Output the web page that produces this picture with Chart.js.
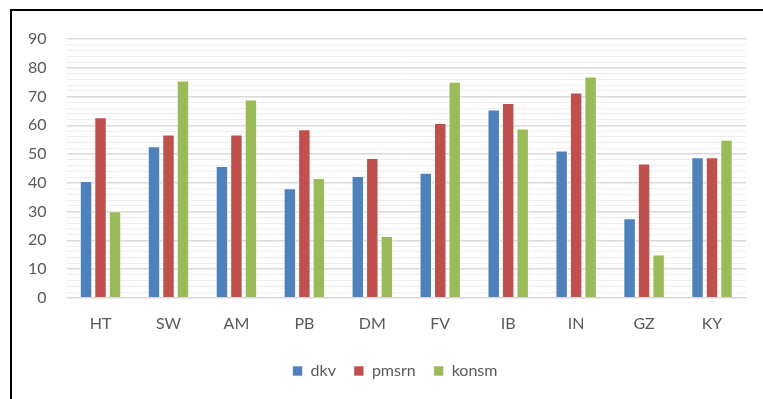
<!DOCTYPE html>
<html>
<head>
<meta charset="utf-8">
<script src="https://cdn.jsdelivr.net/npm/chart.js@4"></script>
<style>
  html, body { margin: 0; padding: 0; background: #fff; }
  #wrap { position: relative; width: 763px; height: 399px; overflow: hidden; }
  #frame { position: absolute; left: 10px; top: 9px; width: 800px; height: 500px;
           border-left: 2px solid #000; border-top: 2px solid #000; }
  #chart { position: absolute; left: 0; top: 0; }
</style>
</head>
<body>
<div id="wrap">
  <div id="frame"></div>
  <canvas id="chart" width="763" height="399"></canvas>
</div>
<script>
const categories = ['HT', 'SW', 'AM', 'PB', 'DM', 'FV', 'IB', 'IN', 'GZ', 'KY'];
const dkv    = [40.6, 52.7, 45.8, 38.1, 42.4, 43.5, 65.5, 51.2, 27.7, 48.9];
const pmsrn  = [62.8, 56.8, 56.8, 58.6, 48.6, 60.8, 67.7, 71.4, 46.7, 48.9];
const konsm  = [30.1, 75.6, 69.0, 41.7, 21.5, 75.1, 58.9, 77.0, 15.1, 55.0];
const yMax = 90;

const textColor = '#595959';
const font = { family: 'Lato, "Open Sans", sans-serif', size: 16 };

function bar(label, data, color) {
    return {
        label: label,
        data: data,
        backgroundColor: color,
        borderColor: 'rgba(255,255,255,0.6)',
        borderWidth: 1,
        barPercentage: 0.86,
        categoryPercentage: 0.64
    };
}

// legend sits a bit right of centre (and a little higher) in the original
const legendShift = {
    id: 'legendShift',
    afterLayout(chart) {
        const lg = chart.legend;
        lg.left += 18;
        lg.right += 18;
        lg.top -= 4;
        lg.bottom -= 4;
    }
};

new Chart(document.getElementById('chart'), {
    type: 'bar',
    data: {
        labels: categories,
        datasets: [
            bar('dkv', dkv, '#4F81BD'),
            bar('pmsrn', pmsrn, '#C0504D'),
            bar('konsm', konsm, '#9BBB59')
        ]
    },
    options: {
        responsive: false,
        animation: false,
        layout: { padding: { left: 8, right: 17, top: 39, bottom: 6 } },
        scales: {
            x: {
                grid: { display: false, drawTicks: false },
                border: { display: true, color: '#d9d9d9', width: 1 },
                ticks: { color: textColor, font: font, padding: 16 }
            },
            y: {
                min: 0,
                max: yMax,
                border: { display: false },
                grid: {
                    drawTicks: false,
                    color: ctx => (ctx.tick && ctx.tick.value % 10 === 0) ? '#d9d9d9' : '#eeeeee',
                    lineWidth: ctx => (ctx.tick && ctx.tick.value % 10 === 0) ? 1.5 : 1
                },
                ticks: {
                    stepSize: 2,
                    autoSkip: false,
                    color: textColor,
                    font: font,
                    padding: 20,
                    callback: v => v % 10 === 0 ? v : ''
                }
            }
        },
        plugins: {
            legend: {
                position: 'bottom',
                labels: {
                    color: textColor,
                    font: font,
                    boxWidth: 10,
                    boxHeight: 10,
                    padding: 18
                }
            },
            tooltip: { enabled: false }
        }
    },
    plugins: [legendShift]
});
</script>
</body>
</html>
